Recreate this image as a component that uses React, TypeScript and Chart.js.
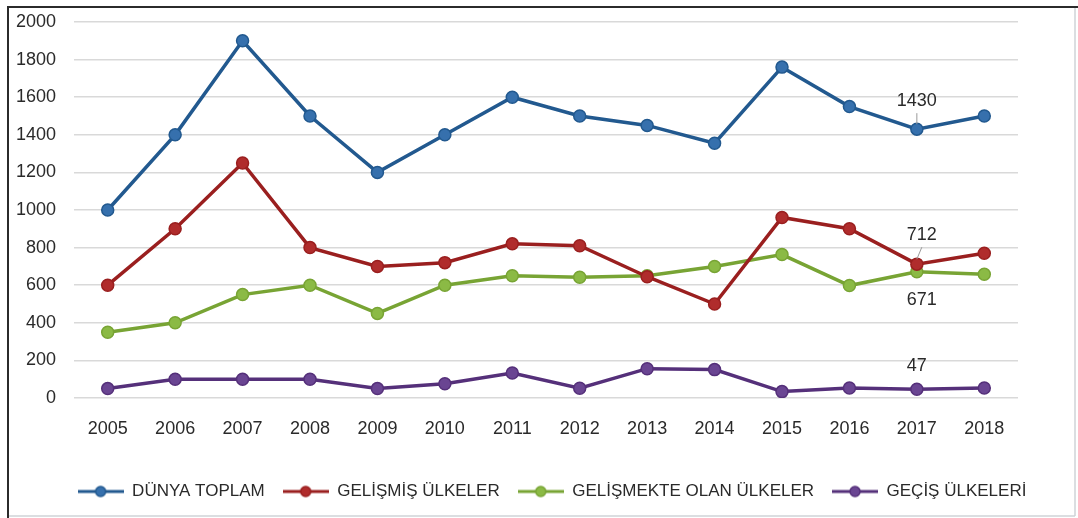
import React, { useEffect, useRef } from "react";
import { Chart, registerables } from "chart.js";

Chart.register(...registerables);

const years = ["2005", "2006", "2007", "2008", "2009", "2010", "2011", "2012", "2013", "2014", "2015", "2016", "2017", "2018"];
const dunyaToplam = [1000, 1400, 1900, 1500, 1200, 1400, 1600, 1500, 1450, 1355, 1760, 1550, 1430, 1500];
const gelismisUlkeler = [600, 900, 1250, 800, 700, 720, 820, 810, 645, 500, 960, 900, 712, 770];
const gelismekteOlanUlkeler = [350, 400, 550, 600, 450, 600, 650, 642, 650, 700, 763, 598, 671, 658];
const gecisUlkeleri = [50, 100, 100, 100, 50, 76, 133, 52, 156, 151, 34, 53, 47, 53];
const seriesNames = ["DÜNYA TOPLAM", "GELİŞMİŞ ÜLKELER", "GELİŞMEKTE OLAN ÜLKELER", "GEÇİŞ ÜLKELERİ"];
const lineColors = ["#22598f", "#9a1f1f", "#78a434", "#55307a"];
const pointColors = ["#3670ad", "#b02c2c", "#8bba45", "#6a4592"];
const yTicks = [0, 200, 400, 600, 800, 1000, 1200, 1400, 1600, 1800, 2000];
// value labels: dataset index, category index, text, vertical offset
const labelSeries = [0, 1, 2, 3];
const labelIndex = [12, 12, 12, 12];
const labelText = ["1430", "712", "671", "47"];
const labelOffsetY = [-28, -29, 28, -23];
const labelOffsetX = [0, 5, 5, 0];
const labelLeader = [true, true, false, false];

const FONT = "'Liberation Sans', Arial, sans-serif";

function makeMarker(line: string, fill: string): HTMLCanvasElement {
  const c = document.createElement("canvas");
  c.width = 46;
  c.height = 14;
  const ctx = c.getContext("2d")!;
  ctx.strokeStyle = line;
  ctx.lineWidth = 3;
  ctx.beginPath();
  ctx.moveTo(0, 7);
  ctx.lineTo(46, 7);
  ctx.stroke();
  ctx.fillStyle = fill;
  ctx.beginPath();
  ctx.arc(23, 7, 5, 0, Math.PI * 2);
  ctx.fill();
  ctx.lineWidth = 1.5;
  ctx.stroke();
  return c;
}

export default function App() {
  const ref = useRef<HTMLCanvasElement | null>(null);

  useEffect(() => {
    const canvas = ref.current;
    if (!canvas) return;
    const markers = lineColors.map((c, i) => makeMarker(c, pointColors[i]));
    const allData = [dunyaToplam, gelismisUlkeler, gelismekteOlanUlkeler, gecisUlkeleri];

    const framePlugin = {
      id: "frame",
      afterLayout(chart: any) {
        if (chart.legend) {
          chart.legend.left += 43;
          chart.legend.right += 43;
        }
      },
      afterDraw(chart: any) {
        const ctx = chart.ctx;
        ctx.save();
        ctx.strokeStyle = "#cfd3d8";
        ctx.lineWidth = 1.5;
        ctx.beginPath();
        ctx.moveTo(1075, 7);
        ctx.lineTo(1075, 516);
        ctx.moveTo(8, 516);
        ctx.lineTo(1075, 516);
        ctx.stroke();
        ctx.strokeStyle = "#2b2b2b";
        ctx.lineWidth = 2;
        ctx.beginPath();
        ctx.moveTo(8, 518);
        ctx.lineTo(8, 7);
        ctx.lineTo(1078, 7);
        ctx.stroke();
        ctx.restore();
      },
    };

    const labelPlugin = {
      id: "valueLabels",
      afterDatasetsDraw(chart: any) {
        const ctx = chart.ctx;
        ctx.save();
        ctx.font = `18px ${FONT}`;
        ctx.fillStyle = "#2a2a2a";
        ctx.textAlign = "center";
        ctx.textBaseline = "middle";
        labelSeries.forEach((s, k) => {
          const pt = chart.getDatasetMeta(s).data[labelIndex[k]];
          const x = pt.x + labelOffsetX[k];
          const y = pt.y + labelOffsetY[k];
          if (labelLeader[k]) {
            ctx.strokeStyle = "#9a9a9a";
            ctx.lineWidth = 1;
            ctx.beginPath();
            ctx.moveTo(x, y + 12);
            ctx.lineTo(pt.x, pt.y - 5);
            ctx.stroke();
          }
          ctx.fillText(labelText[k], x, y);
        });
        ctx.restore();
      },
    };

    const chart = new Chart(canvas, {
      type: "line",
      data: {
        labels: years,
        datasets: allData.map((d, i) => ({
          label: seriesNames[i],
          data: d,
          borderColor: lineColors[i],
          backgroundColor: pointColors[i],
          pointBackgroundColor: pointColors[i],
          pointBorderColor: lineColors[i],
          pointBorderWidth: 1.5,
          pointRadius: 6,
          borderWidth: 3.5,
          tension: 0,
        })),
      },
      options: {
        responsive: false,
        animation: false,
        layout: { padding: { top: 22, right: 60, bottom: 8, left: 0 } },
        plugins: {
          tooltip: { enabled: false },
          legend: {
            position: "bottom",
            labels: {
              usePointStyle: true,
              pointStyleWidth: 46,
              padding: 18,
              color: "#2a2a2a",
              font: { family: FONT, size: 17 },
              generateLabels: (ch: any) => {
                const base = Chart.defaults.plugins.legend.labels.generateLabels(ch);
                return base.map((l: any, i: number) => ({ ...l, pointStyle: markers[i] }));
              },
            },
          },
        },
        scales: {
          x: {
            offset: true,
            grid: { display: false, drawTicks: false },
            border: { display: false },
            ticks: { color: "#2a2a2a", font: { family: FONT, size: 18 }, padding: 20, maxRotation: 0 },
            afterFit: (scale: any) => {
              scale.height = 67;
            },
          },
          y: {
            min: 0,
            max: 2000,
            afterBuildTicks: (scale: any) => {
              scale.ticks = yTicks.map((v) => ({ value: v }));
            },
            grid: { color: "#d9d9d9", lineWidth: 1.5, drawTicks: true, tickLength: 18, tickColor: "rgba(0,0,0,0)" },
            border: { display: false },
            ticks: {
              color: "#2a2a2a",
              font: { family: FONT, size: 18 },
              padding: 0,
              callback: (v: any) => String(v),
            },
            afterFit: (scale: any) => {
              scale.width = 74;
            },
          },
        },
      },
      plugins: [framePlugin, labelPlugin],
    });
    return () => chart.destroy();
  }, []);

  return (
    <div style={{ position: "fixed", left: 0, top: 0, width: 1078, height: 518, background: "#ffffff" }}>
      <canvas ref={ref} width={1078} height={518} style={{ display: "block" }} />
    </div>
  );
}
